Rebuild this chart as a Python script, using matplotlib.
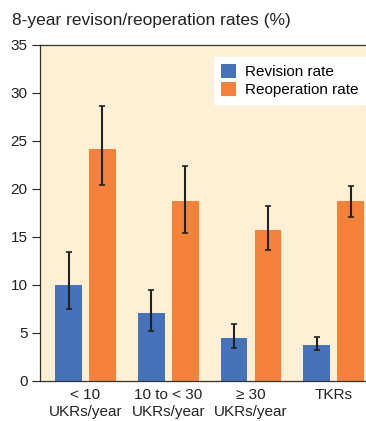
import numpy as np
import matplotlib
matplotlib.use("Agg")
import matplotlib.pyplot as plt

plt.rcParams["font.family"] = ["Liberation Sans", "DejaVu Sans"]

groups = ["< 10\nUKRs/year", "10 to < 30\nUKRs/year", "\u2265 30\nUKRs/year", "TKRs"]
revision = [10.0, 7.1, 4.5, 3.75]
revision_lo = [7.5, 5.2, 3.45, 3.2]
revision_hi = [13.4, 9.5, 5.9, 4.55]
reoperation = [24.2, 18.75, 15.7, 18.75]
reoperation_lo = [20.4, 15.45, 13.6, 17.1]
reoperation_hi = [28.6, 22.4, 18.2, 20.3]

BLUE = "#4672B9"
ORANGE = "#F5823B"
BG = "#FEF0D4"

fig = plt.figure(figsize=(3.66, 4.21), dpi=100)
ax = fig.add_axes([40/366, 1 - 381/421, 326/366, 336/421])
ax.set_facecolor(BG)

x = np.arange(len(groups))
w = 0.325
off = 0.205

def err(v, lo, hi):
    v = np.array(v); return [v - np.array(lo), np.array(hi) - v]

ekw = dict(ecolor="#222222", elinewidth=1.5, capsize=2.2, capthick=1.2)
ax.bar(x - off, revision, w, color=BLUE, label="Revision rate",
       yerr=err(revision, revision_lo, revision_hi), error_kw=ekw)
ax.bar(x + off, reoperation, w, color=ORANGE, label="Reoperation rate",
       yerr=err(reoperation, reoperation_lo, reoperation_hi), error_kw=ekw)

ax.set_xlim(-0.55, 3.39)
ax.set_ylim(0, 35)
ax.set_yticks(range(0, 36, 5))
ax.set_xticks(x)
ax.set_xticklabels(groups, fontsize=11, linespacing=1.25)
ax.tick_params(axis="x", length=0, pad=5, colors="#222222")
ax.tick_params(axis="y", length=6, width=0.8, labelsize=11, colors="#222222", pad=3)
ax.spines["right"].set_visible(False)
for s in ["left", "bottom", "top"]:
    ax.spines[s].set_color("#333333")
    ax.spines[s].set_linewidth(0.9)

leg = ax.legend(loc="upper right", bbox_to_anchor=(365/366, 1 - 57/421),
                bbox_transform=fig.transFigure, fontsize=11,
                frameon=True, fancybox=False, edgecolor="white", framealpha=1,
                handlelength=1.0, handleheight=1.0, handletextpad=0.55,
                labelspacing=0.2, borderpad=0.45, borderaxespad=0)

fig.text(12/366, 1 - 20/421, "8-year revison/reoperation rates (%)", fontsize=12.5,
         color="#222222", va="center", ha="left")

fig.savefig("out.png", dpi=100)
